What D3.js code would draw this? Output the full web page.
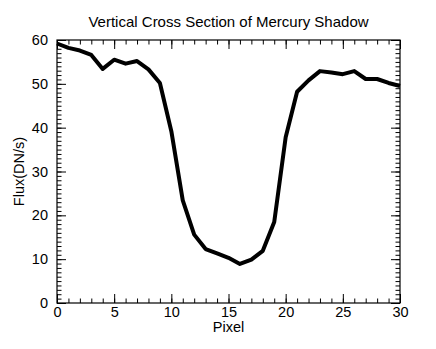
<!DOCTYPE html>
<html>
<head>
<script src="https://d3js.org/d3.v7.min.js"></script>
<style>
  body { margin: 0; background: #fff; }
  text { font-family: "Liberation Sans", Arial, sans-serif; fill: #000; }
</style>
</head>
<body>
<svg width="436" height="349"></svg>
<script>
// pixel index along the cross section
var pixels = [0,1,2,3,4,5,6,7,8,9,10,11,12,13,14,15,16,17,18,19,20,21,22,23,24,25,26,27,28,29,30];
// flux
var flux = [59.2,58.2,57.6,56.6,53.4,55.5,54.6,55.2,53.3,50.2,39.2,23.4,15.6,12.3,11.3,10.3,8.9,9.9,11.9,18.5,37.8,48.2,50.8,52.9,52.6,52.2,52.9,51.1,51.1,50.2,49.5];
var xMajor = [0,5,10,15,20,25,30];
var yMajor = [0,10,20,30,40,50,60];

var margin = {top: 40, right: 36, bottom: 46, left: 57},
    width = 436 - margin.left - margin.right,
    height = 349 - margin.top - margin.bottom;

var svg = d3.select("svg");
var g = svg.append("g")
    .attr("transform", "translate(" + margin.left + "," + margin.top + ")");

var x = d3.scaleLinear().domain([0, 30]).range([0, width]);
var y = d3.scaleLinear().domain([0, 60]).range([height, 0]);

var xMinor = d3.range(0, 31, 1);
var yMinor = d3.range(0, 61, 1);

function clean(sel) {
  sel.select(".domain").remove();
  sel.selectAll("line").attr("stroke", "#000").attr("stroke-width", 1);
}

// bottom axis with labels
g.append("g")
  .attr("transform", "translate(0," + height + ")")
  .call(d3.axisBottom(x).tickValues(xMajor).tickSizeInner(-9).tickSizeOuter(0).tickPadding(4).tickFormat(d3.format("d")))
  .call(clean)
  .selectAll("text").style("font-size", "14.5px");
g.append("g")
  .attr("transform", "translate(0," + height + ")")
  .call(d3.axisBottom(x).tickValues(xMinor).tickSizeInner(-4.5).tickSizeOuter(0).tickFormat(""))
  .call(clean);
// top axis, ticks only
g.append("g")
  .call(d3.axisTop(x).tickValues(xMajor).tickSizeInner(-9).tickSizeOuter(0).tickFormat(""))
  .call(clean);
g.append("g")
  .call(d3.axisTop(x).tickValues(xMinor).tickSizeInner(-4.5).tickSizeOuter(0).tickFormat(""))
  .call(clean);

// left axis with labels
g.append("g")
  .call(d3.axisLeft(y).tickValues(yMajor).tickSizeInner(-9).tickSizeOuter(0).tickPadding(9).tickFormat(d3.format("d")))
  .call(clean)
  .selectAll("text").style("font-size", "14.5px");
g.append("g")
  .call(d3.axisLeft(y).tickValues(yMinor).tickSizeInner(-4.5).tickSizeOuter(0).tickFormat(""))
  .call(clean);
// right axis, ticks only
g.append("g")
  .attr("transform", "translate(" + width + ",0)")
  .call(d3.axisRight(y).tickValues(yMajor).tickSizeInner(-9).tickSizeOuter(0).tickFormat(""))
  .call(clean);
g.append("g")
  .attr("transform", "translate(" + width + ",0)")
  .call(d3.axisRight(y).tickValues(yMinor).tickSizeInner(-4.5).tickSizeOuter(0).tickFormat(""))
  .call(clean);

// frame
g.append("rect")
  .attr("x", 0).attr("y", 0)
  .attr("width", width).attr("height", height)
  .style("fill", "none")
  .style("stroke", "#000")
  .style("stroke-width", 1.2);

// the profile
var line = d3.line()
  .x(function(d, i) { return x(pixels[i]); })
  .y(function(d) { return y(d); });

g.append("path")
  .datum(flux)
  .attr("d", line)
  .style("fill", "none")
  .style("stroke", "#000")
  .style("stroke-width", 4)
  .style("stroke-linejoin", "round");

// titles
svg.append("text")
  .attr("x", margin.left + width / 2)
  .attr("y", 27)
  .attr("text-anchor", "middle")
  .style("font-size", "15px")
  .text("Vertical Cross Section of Mercury Shadow");

svg.append("text")
  .attr("x", margin.left + width / 2)
  .attr("y", 332)
  .attr("text-anchor", "middle")
  .style("font-size", "14.5px")
  .text("Pixel");

svg.append("text")
  .attr("transform", "translate(24," + (margin.top + height / 2) + ") rotate(-90)")
  .attr("text-anchor", "middle")
  .style("font-size", "14.5px")
  .text("Flux(DN/s)");
</script>
</body>
</html>
